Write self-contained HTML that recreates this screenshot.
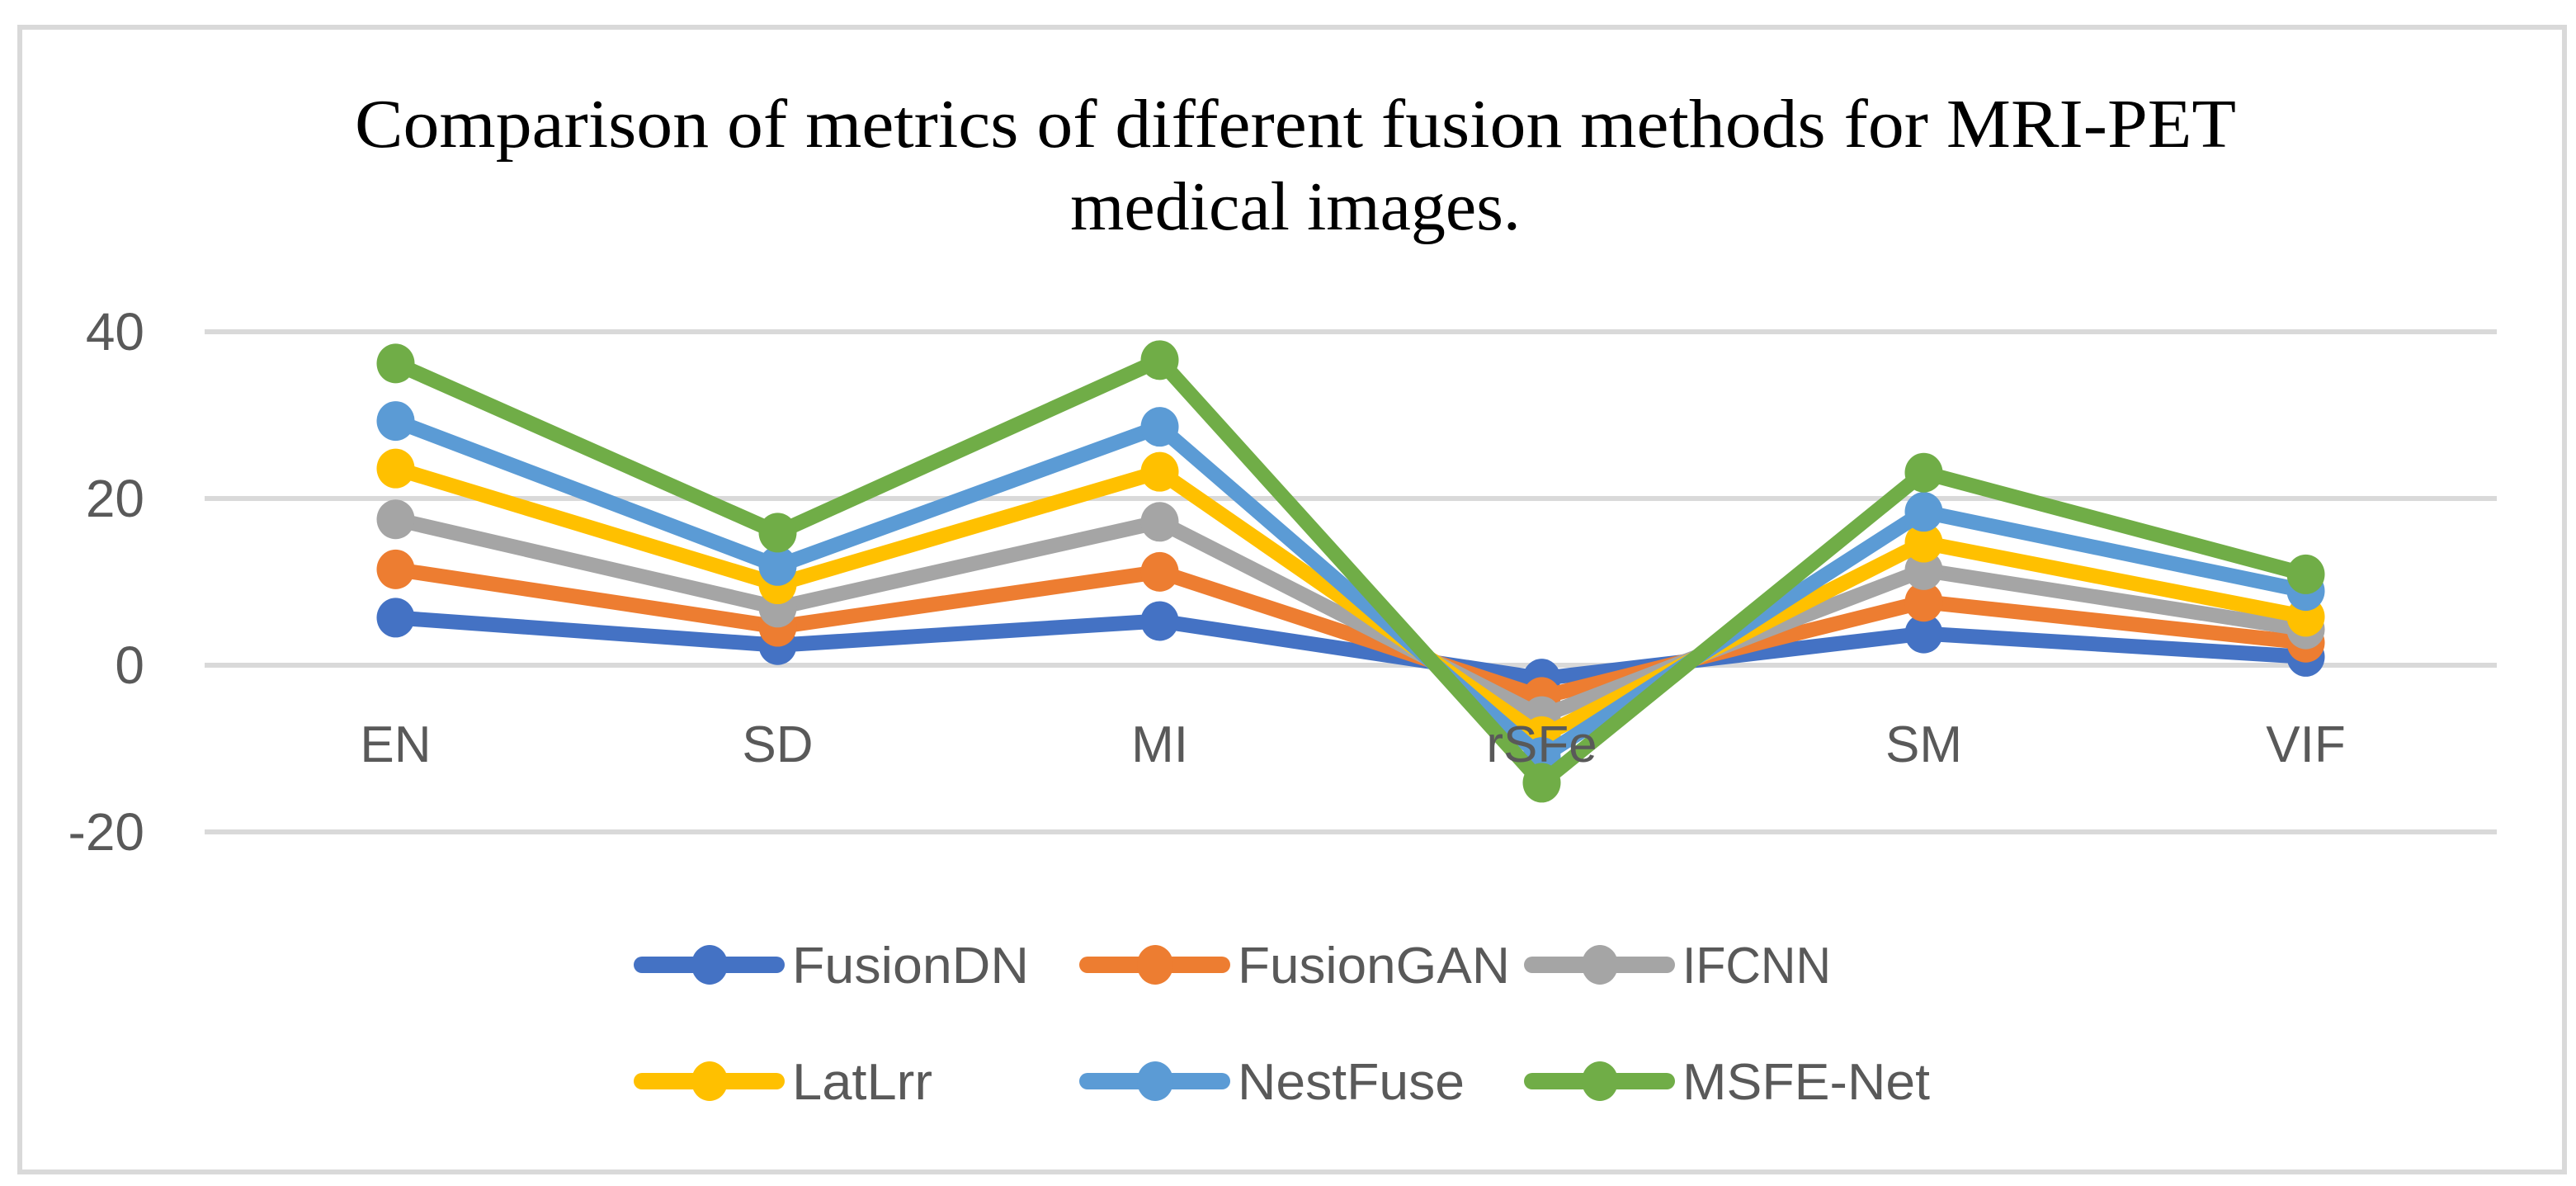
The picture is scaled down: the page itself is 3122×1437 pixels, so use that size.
<!DOCTYPE html>
<html><head><meta charset="utf-8"><style>html,body{margin:0;padding:0;background:#fff}svg{display:block}</style></head>
<body>
<svg id="chart" width="3122" height="1437" viewBox="0 0 3122 1437" xmlns="http://www.w3.org/2000/svg">
<rect x="24" y="33" width="3084" height="1387" fill="#fff" stroke="#d9d9d9" stroke-width="6"/>
<text x="1570" y="178" text-anchor="middle" font-family="Liberation Serif, serif" font-size="84" fill="#000" textLength="2280" lengthAdjust="spacingAndGlyphs">Comparison of metrics of different fusion methods for MRI-PET</text>
<text x="1570" y="278" text-anchor="middle" font-family="Liberation Serif, serif" font-size="84" fill="#000">medical images.</text>
<g id="grid"></g>
<g id="series"></g>
<g id="xlabels"></g>
<g id="legend"></g>
</svg>
<script>
const categories = ["EN","SD","MI","rSFe","SM","VIF"];
const seriesNames = ["FusionDN","FusionGAN","IFCNN","LatLrr","NestFuse","MSFE-Net"];
const seriesColors = ["#4472c4","#ed7d31","#a5a5a5","#ffc000","#5b9bd5","#70ad47"];
const fusionDN = [5.7, 2.4, 5.3, -1.6, 3.8, 1.0];
const fusionGAN = [11.5, 4.6, 11.2, -3.8, 7.6, 2.7];
const ifcnn = [17.5, 6.9, 17.2, -6.1, 11.4, 4.3];
const latLrr = [23.6, 9.7, 23.2, -8.5, 14.7, 5.8];
const nestFuse = [29.3, 11.9, 28.6, -11.0, 18.4, 8.9];
const msfeNet = [36.2, 15.9, 36.6, -14.1, 23.1, 10.9];
const tickValues = [40, 20, 0, -20];
const tickLabels = ["40","20","0","-20"];

const NS = "http://www.w3.org/2000/svg";
const plotL = 248, plotR = 3026;
function yScale(v){ return 806 - v * (202/20); }
function xScale(i){ return plotL + (plotR - plotL) / categories.length * (i + 0.5); }
function mk(tag, attrs, parent){ const e = document.createElementNS(NS, tag); for (const k in attrs) e.setAttribute(k, attrs[k]); parent.appendChild(e); return e; }

const grid = document.getElementById('grid');
tickValues.forEach((v, i) => {
  const l = mk('line', {x1: plotL, x2: plotR, y1: yScale(v), y2: yScale(v), stroke: '#d9d9d9', 'stroke-width': 6}, grid);
  
  
  const t = mk('text', {x: 175, y: yScale(v) + 22, 'text-anchor': 'end', 'font-family': 'Liberation Sans, sans-serif', 'font-size': 64, fill: '#595959'}, grid);
  t.textContent = tickLabels[i];
  
  
});

const allSeries = [fusionDN, fusionGAN, ifcnn, latLrr, nestFuse, msfeNet];
const sg = document.getElementById('series');
allSeries.forEach((vals, s) => {
  const g = mk('g', {}, sg);
  
  
  const pts = vals.map((v, i) => xScale(i) + ',' + yScale(v)).join(' ');
  const pl = mk('polyline', {points: pts, fill: 'none', stroke: seriesColors[s], 'stroke-width': 18, 'stroke-linejoin': 'round'}, g);
  
  
  vals.forEach((v, i) => {
    const c = mk('ellipse', {cx: xScale(i), cy: yScale(v), rx: 23, ry: 24, fill: seriesColors[s]}, g);
    
    
  });
});

const xl = document.getElementById('xlabels');
categories.forEach((c, i) => {
  const t = mk('text', {x: xScale(i), y: 923, 'text-anchor': 'middle', 'font-family': 'Liberation Sans, sans-serif', 'font-size': 62, fill: '#595959'}, xl);
  t.textContent = c;
  
  
});

const lg = document.getElementById('legend');
const legX = [770, 1310, 1849], legY = [1169, 1310];
const legW = [287, 330, 180, 170, 275, 300];
seriesNames.forEach((n, s) => {
  const x = legX[s % 3], y = legY[Math.floor(s / 3)];
  const g = mk('g', {}, lg);
  
  
  mk('line', {x1: x + 8, x2: x + 171, y1: y, y2: y, stroke: seriesColors[s], 'stroke-width': 20, 'stroke-linecap': 'round'}, g);
  mk('ellipse', {cx: x + 90, cy: y, rx: 22, ry: 24, fill: seriesColors[s]}, g);
  const t = mk('text', {x: x + 190, y: y + 22, 'font-family': 'Liberation Sans, sans-serif', 'font-size': 62, fill: '#595959', textLength: legW[s], lengthAdjust: 'spacingAndGlyphs'}, g);
  t.textContent = n;
});
</script>
</body></html>
